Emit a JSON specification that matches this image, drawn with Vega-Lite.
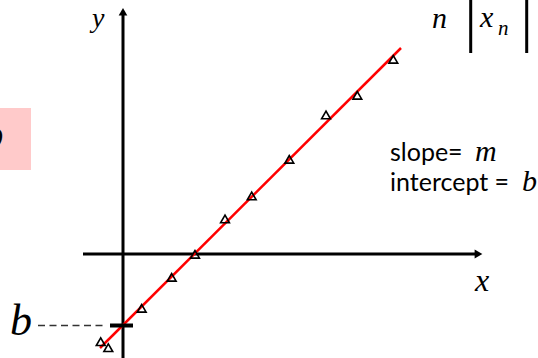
{
  "$schema": "https://vega.github.io/schema/vega-lite/v6.json",
  "width": 538,
  "height": 358,
  "padding": 0,
  "autosize": {"type": "none"},
  "background": "white",
  "config": {"view": {"stroke": null}},
  "datasets": {
    "samples": [
      {"x": -22.3, "y": -87.7}, {"x": -14.7, "y": -93.7}, {"x": 18.7, "y": -54.3},
      {"x": 48.7, "y": -23.3}, {"x": 72.0, "y": -0.3}, {"x": 102.0, "y": 35.0},
      {"x": 128.7, "y": 58.0}, {"x": 166.3, "y": 94.7}, {"x": 203.0, "y": 139.0},
      {"x": 234.3, "y": 158.7}, {"x": 270.3, "y": 194.7}
    ],
    "fit": [
      {"x": -23, "y": -94}, {"x": 278, "y": 206}
    ],
    "segments": [
      {"part": "axis", "x": -40, "y": 0, "x2": 352, "y2": 0},
      {"part": "axis", "x": 0, "y": -104, "x2": 0, "y2": 240},
      {"part": "table", "x": 347.7, "y": 254, "x2": 347.7, "y2": 201},
      {"part": "table", "x": 403.7, "y": 254, "x2": 403.7, "y2": 201},
      {"part": "tick", "x": -13, "y": -71.5, "x2": 10, "y2": -71.5},
      {"part": "guide", "x": -85, "y": -71.5, "x2": -16, "y2": -71.5}
    ],
    "arrows": [
      {"dir": "right", "x": 355.5, "y": 0},
      {"dir": "up", "x": 0, "y": 242.3}
    ],
    "highlight": [
      {"x": -123, "y": 146, "x2": -92, "y2": 84}
    ],
    "math": [
      {"t": "y", "x": -31, "y": 227, "size": "ylab"},
      {"t": "x", "x": 352, "y": -37, "size": "big"},
      {"t": "n", "x": 309, "y": 226, "size": "mid"},
      {"t": "x", "x": 357, "y": 227, "size": "mid"},
      {"t": "n", "x": 375, "y": 219, "size": "sub"},
      {"t": "m", "x": 352, "y": 93, "size": "mid"},
      {"t": "b", "x": 399, "y": 63, "size": "mid"},
      {"t": "b", "x": -113, "y": -81, "size": "huge"}
    ],
    "words": [
      {"t": "slope=", "x": 267, "y": 93},
      {"t": "intercept =", "x": 267, "y": 63}
    ]
  },
  "encoding": {
    "x": {"field": "x", "type": "quantitative", "axis": null,
          "scale": {"domain": [-123, 415], "nice": false, "zero": false}},
    "y": {"field": "y", "type": "quantitative", "axis": null,
          "scale": {"domain": [-104, 254], "nice": false, "zero": false}}
  },
  "layer": [
    {
      "data": {"name": "highlight"},
      "mark": {"type": "rect", "color": "#ffcaca"},
      "encoding": {"x2": {"field": "x2"}, "y2": {"field": "y2"}}
    },
    {
      "data": {"values": [{"t": "b", "x": -119.5, "y": 104}]},
      "mark": {"type": "text", "align": "right", "baseline": "alphabetic",
               "font": "Liberation Serif", "fontStyle": "italic", "fontSize": 46, "color": "black"},
      "encoding": {"text": {"field": "t"}}
    },
    {
      "data": {"name": "segments"},
      "transform": [{"filter": "datum.part === 'axis'"}],
      "mark": {"type": "rule", "color": "black", "strokeWidth": 3},
      "encoding": {"x2": {"field": "x2"}, "y2": {"field": "y2"}}
    },
    {
      "data": {"name": "segments"},
      "transform": [{"filter": "datum.part === 'table'"}],
      "mark": {"type": "rule", "color": "black", "strokeWidth": 3},
      "encoding": {"x2": {"field": "x2"}, "y2": {"field": "y2"}}
    },
    {
      "data": {"name": "segments"},
      "transform": [{"filter": "datum.part === 'guide'"}],
      "mark": {"type": "rule", "color": "#333333", "strokeWidth": 1.5, "strokeDash": [7, 4.5]},
      "encoding": {"x2": {"field": "x2"}, "y2": {"field": "y2"}}
    },
    {
      "data": {"name": "arrows"},
      "transform": [{"filter": "datum.dir === 'right'"}],
      "mark": {"type": "point", "shape": "triangle-right", "filled": true, "color": "black", "size": 80, "opacity": 1}
    },
    {
      "data": {"name": "arrows"},
      "transform": [{"filter": "datum.dir === 'up'"}],
      "mark": {"type": "point", "shape": "triangle-up", "filled": true, "color": "black", "size": 75, "opacity": 1}
    },
    {
      "data": {"name": "fit"},
      "mark": {"type": "line", "color": "#ff0000", "strokeWidth": 2.5}
    },
    {
      "data": {"name": "segments"},
      "transform": [{"filter": "datum.part === 'tick'"}],
      "mark": {"type": "rule", "color": "black", "strokeWidth": 4},
      "encoding": {"x2": {"field": "x2"}, "y2": {"field": "y2"}}
    },
    {
      "data": {"name": "samples"},
      "mark": {"type": "point", "shape": "triangle-up", "filled": false, "color": "black",
               "strokeWidth": 1.6, "size": 78, "opacity": 1}
    },
    {
      "data": {"name": "words"},
      "mark": {"type": "text", "align": "left", "baseline": "alphabetic",
               "font": "Lato", "fontSize": 25, "color": "black"},
      "encoding": {"text": {"field": "t"}}
    },
    {
      "data": {"name": "math"},
      "transform": [{"filter": "datum.size === 'ylab'"}],
      "mark": {"type": "text", "align": "left", "baseline": "alphabetic",
               "font": "Liberation Serif", "fontStyle": "italic", "fontSize": 28, "color": "black"},
      "encoding": {"text": {"field": "t"}}
    },
    {
      "data": {"name": "math"},
      "transform": [{"filter": "datum.size === 'big'"}],
      "mark": {"type": "text", "align": "left", "baseline": "alphabetic",
               "font": "Liberation Serif", "fontStyle": "italic", "fontSize": 32, "color": "black"},
      "encoding": {"text": {"field": "t"}}
    },
    {
      "data": {"name": "math"},
      "transform": [{"filter": "datum.size === 'mid'"}],
      "mark": {"type": "text", "align": "left", "baseline": "alphabetic",
               "font": "Liberation Serif", "fontStyle": "italic", "fontSize": 30, "color": "black"},
      "encoding": {"text": {"field": "t"}}
    },
    {
      "data": {"name": "math"},
      "transform": [{"filter": "datum.size === 'sub'"}],
      "mark": {"type": "text", "align": "left", "baseline": "alphabetic",
               "font": "Liberation Serif", "fontStyle": "italic", "fontSize": 21, "color": "black"},
      "encoding": {"text": {"field": "t"}}
    },
    {
      "data": {"name": "math"},
      "transform": [{"filter": "datum.size === 'huge'"}],
      "mark": {"type": "text", "align": "left", "baseline": "alphabetic",
               "font": "Liberation Serif", "fontStyle": "italic", "fontSize": 44, "color": "black"},
      "encoding": {"text": {"field": "t"}}
    }
  ]
}
